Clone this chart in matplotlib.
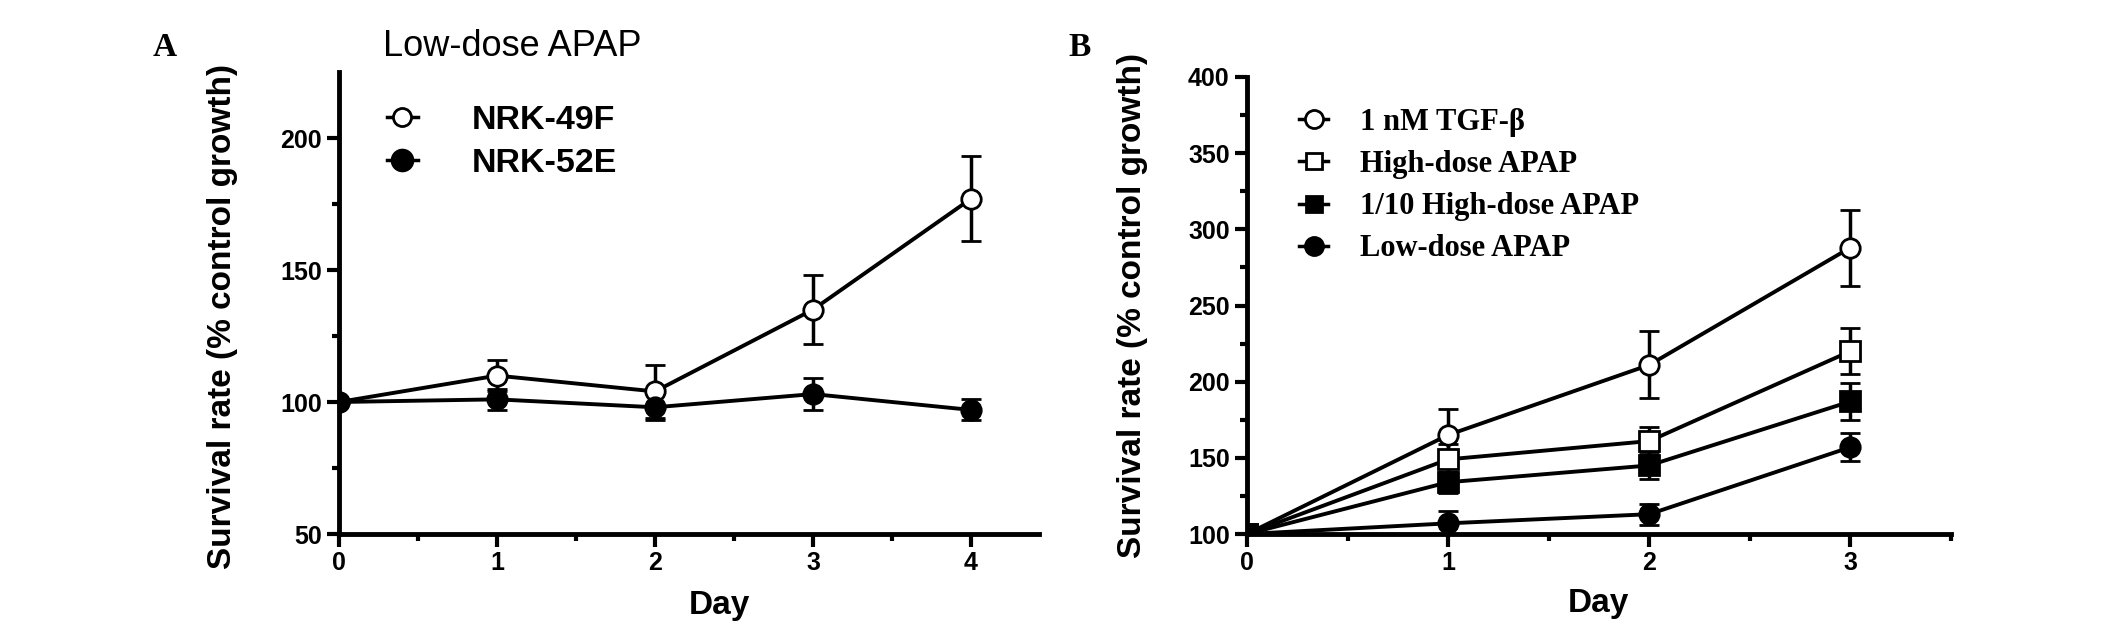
import numpy as np
import matplotlib
matplotlib.use("Agg")
import matplotlib.pyplot as plt
from matplotlib.lines import Line2D
from matplotlib.ticker import MultipleLocator

plt.rcParams['font.family'] = ['Liberation Sans', 'DejaVu Sans']

# panel A data
days_a = [0, 1, 2, 3, 4]
nrk49f = [100, 110, 104, 135, 177]
nrk49f_err = [0, 6, 10, 13, 16]
nrk52e = [100, 101, 98, 103, 97]
nrk52e_err = [0, 4, 5, 6, 4]

# panel B data
days_b = [0, 1, 2, 3]
tgf = [100, 165, 211, 288]
tgf_err = [0, 17, 22, 25]
high = [100, 149, 161, 220]
high_err = [0, 10, 9, 15]
tenth = [100, 134, 145, 187]
tenth_err = [0, 7, 9, 12]
low = [100, 107, 113, 157]
low_err = [0, 8, 7, 9]

W, H = 2126, 631
fig = plt.figure(figsize=(W / 100, H / 100), dpi=100)
serif = ['Liberation Serif', 'DejaVu Serif']

def style_axes(ax):
    for s in ['top', 'right']:
        ax.spines[s].set_visible(False)
    for s in ['left', 'bottom']:
        ax.spines[s].set_linewidth(3.5)
    ax.tick_params(which='major', width=3, length=9, labelsize=18, direction='out')
    ax.tick_params(which='minor', width=3, length=5, direction='out')
    for lab in ax.get_xticklabels() + ax.get_yticklabels():
        lab.set_fontweight('bold')

def series(ax, x, y, e, marker, fill):
    ax.errorbar(x, y, yerr=e, color='black', lw=2.8, marker=marker, ms=14,
                mfc=fill, mec='black', mew=2, capsize=7, capthick=2.5,
                elinewidth=2.5, zorder=3)

def labels(ax, xl, yl):
    ax.set_xlabel('Day', fontsize=24, fontweight='bold')
    ax.set_ylabel('Survival rate (% control growth)', fontsize=24, fontweight='bold')
    ax.xaxis.set_label_coords(*xl)
    ax.yaxis.set_label_coords(*yl)
    ax.xaxis.label.set_va('center')
    ax.yaxis.label.set_va('center')

# ---- panel A
axA = fig.add_axes([339 / W, 1 - 534 / H, 700 / W, 462 / H])
series(axA, days_a, nrk49f, nrk49f_err, 'o', 'white')
series(axA, days_a, nrk52e, nrk52e_err, 'o', 'black')
axA.set_xlim(0, 4.43)
axA.set_ylim(50, 225)
axA.xaxis.set_major_locator(MultipleLocator(1))
axA.xaxis.set_minor_locator(MultipleLocator(0.5))
axA.set_yticks([50, 100, 150, 200])
axA.set_yticks([75, 125, 175], minor=True)
style_axes(axA)
labels(axA, (0.544, -0.154), (-0.167, 0.47))
fig.text(512 / W, 1 - 46 / H, 'Low-dose APAP', fontsize=26, ha='center', va='center')
hA = [Line2D([], [], color='black', lw=2.5, marker='o', ms=13, mfc='white', mec='black', mew=2),
      Line2D([], [], color='black', lw=2.5, marker='o', ms=15, mfc='black', mec='black', mew=2)]
fig.legend(hA, ['NRK-49F', 'NRK-52E'], loc='upper left', bbox_to_anchor=(387 / W, 1 - 105 / H),
           frameon=False, borderpad=0, borderaxespad=0, handlelength=0.9, handletextpad=1.6,
           labelspacing=0.35, prop={'size': 24.5, 'weight': 'bold'})
fig.text(165 / W, 1 - 47 / H, 'A', fontsize=24, fontweight='bold',
         family=serif, ha='center', va='center')

# ---- panel B
axB = fig.add_axes([1247 / W, 1 - 534 / H, 704 / W, 457 / H])
series(axB, days_b, tgf, tgf_err, 'o', 'white')
series(axB, days_b, high, high_err, 's', 'white')
series(axB, days_b, tenth, tenth_err, 's', 'black')
series(axB, days_b, low, low_err, 'o', 'black')
axB.set_xlim(0, 3.5)
axB.set_ylim(100, 400)
axB.xaxis.set_major_locator(MultipleLocator(1))
axB.xaxis.set_minor_locator(MultipleLocator(0.5))
axB.yaxis.set_major_locator(MultipleLocator(50))
axB.yaxis.set_minor_locator(MultipleLocator(25))
style_axes(axB)
labels(axB, (0.499, -0.151), (-0.163, 0.499))
hB = [Line2D([], [], color='black', lw=2.5, marker='o', ms=13, mfc='white', mec='black', mew=2),
      Line2D([], [], color='black', lw=2.5, marker='s', ms=12, mfc='white', mec='black', mew=2),
      Line2D([], [], color='black', lw=2.5, marker='s', ms=12, mfc='black', mec='black', mew=2),
      Line2D([], [], color='black', lw=2.5, marker='o', ms=13, mfc='black', mec='black', mew=2)]
fig.legend(hB, ['1 nM TGF-β', 'High-dose APAP', '1/10 High-dose APAP', 'Low-dose APAP'],
           loc='upper left', bbox_to_anchor=(1299 / W, 1 - 108 / H),
           frameon=False, borderpad=0, borderaxespad=0, handlelength=0.95, handletextpad=1.05,
           labelspacing=0.43, prop={'size': 22, 'weight': 'bold', 'family': serif})
fig.text(1080 / W, 1 - 47 / H, 'B', fontsize=24, fontweight='bold',
         family=serif, ha='center', va='center')

fig.savefig('out.png', dpi=100)
